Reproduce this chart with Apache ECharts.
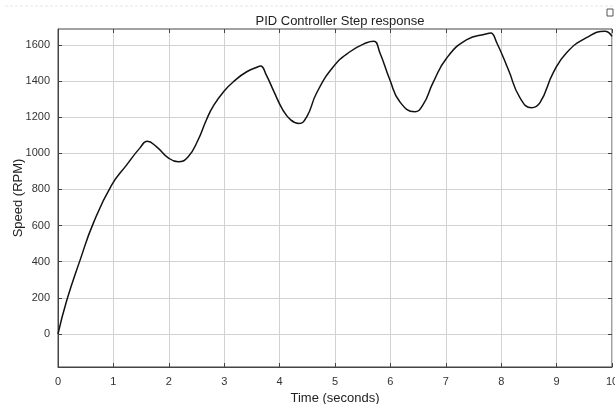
<!DOCTYPE html>
<html>
<head>
<meta charset="utf-8">
<script src="https://cdn.jsdelivr.net/npm/echarts@6/dist/echarts.min.js"></script>
<style>
  html, body { margin: 0; padding: 0; background: #fff; }
  #chart { width: 615px; height: 404px; }
</style>
</head>
<body>
<div id="chart"></div>
<script>
// time (s) and speed (RPM)
const timeS = [0, 0.16, 0.4, 0.64, 0.97, 1.24, 1.48, 1.61, 1.78, 1.99, 2.17, 2.35, 2.53, 2.68,
  2.8, 3.0, 3.2, 3.4, 3.6, 3.66, 3.75, 3.9, 4.05, 4.2, 4.35, 4.49, 4.67, 4.97, 5.27, 5.57, 5.7,
  5.81, 5.99, 6.17, 6.44, 6.59, 6.77, 7.02, 7.38, 7.74, 7.81, 7.92, 8.13, 8.34, 8.55, 8.7,
  8.94, 9.18, 9.54, 9.87, 10];
const speedRpm = [0, 188, 410, 615, 825, 936, 1030, 1066, 1036, 975, 953, 981, 1075, 1186,
  1260, 1345, 1405, 1450, 1478, 1483, 1440, 1340, 1245, 1185, 1165, 1202, 1335, 1479, 1562, 1612, 1620,
  1557, 1407, 1285, 1230, 1269, 1391, 1529, 1629, 1662, 1666, 1612, 1462, 1307, 1252, 1280,
  1446, 1557, 1640, 1675, 1647];
const xTicks = [0, 1, 2, 3, 4, 5, 6, 7, 8, 9, 10];
const yTicks = [0, 200, 400, 600, 800, 1000, 1200, 1400, 1600];

const font = 'Liberation Sans, Arial, sans-serif';
const chart = echarts.init(document.getElementById('chart'));

const points = timeS.map((t, i) => [t, speedRpm[i]]);

chart.setOption({
  animation: false,
  title: {
    text: 'PID Controller Step response',
    left: 335, top: 10, textAlign: 'center',
    textStyle: { fontFamily: font, fontSize: 13, fontWeight: 'normal', color: '#222' }
  },
  grid: { left: 58, right: 3, top: 29, bottom: 37, show: true, borderColor: '#444', borderWidth: 1,
    containLabel: false, outerBoundsMode: 'none' },
  xAxis: [{
    type: 'value', min: 0, max: 10, interval: 1,
    name: 'Time (seconds)', nameLocation: 'middle', nameGap: 24,
    nameTextStyle: { fontFamily: font, fontSize: 13, color: '#222' },
    axisLine: { onZero: false, lineStyle: { color: '#444' } },
    axisTick: { inside: true, length: 4, lineStyle: { color: '#444' } },
    axisLabel: { fontFamily: font, fontSize: 11, color: '#333', margin: 9,
      formatter: v => xTicks.includes(v) ? String(v) : '' },
    splitLine: { show: true, lineStyle: { color: '#d2d2d2' } }
  }, {
    type: 'value', position: 'top', min: 0, max: 10, interval: 1,
    axisLine: { show: false, onZero: false },
    axisTick: { inside: true, length: 4, lineStyle: { color: '#444' } },
    axisLabel: { show: false }, splitLine: { show: false }
  }],
  yAxis: [{
    type: 'value', min: -183, max: 1688,
    axisLabel: { fontFamily: font, fontSize: 11, color: '#333', margin: 8,
      customValues: yTicks, formatter: v => String(v) },
    axisTick: { inside: true, length: 4, lineStyle: { color: '#444' }, customValues: yTicks },
    axisLine: { show: true, onZero: false, lineStyle: { color: '#444' } },
    splitLine: { show: true, lineStyle: { color: '#d2d2d2' } },
    name: 'Speed (RPM)', nameLocation: 'middle', nameGap: 33, nameRotate: 90,
    nameMoveOverlap: false,
    nameTextStyle: { fontFamily: font, fontSize: 13, color: '#222' }
  }, {
    type: 'value', position: 'right', min: -183, max: 1688,
    axisLine: { show: false, onZero: false }, axisLabel: { show: false },
    axisTick: { inside: true, length: 4, lineStyle: { color: '#444' }, customValues: yTicks },
    splitLine: { show: false }
  }],
  graphic: [{
    type: 'line', shape: { x1: 5, y1: 6, x2: 615, y2: 6 },
    style: { stroke: '#e6e6e6', lineDash: [3, 2], lineWidth: 1 }
  }, {
    type: 'rect', shape: { x: 607, y: 9, width: 6, height: 7 },
    style: { fill: 'none', stroke: '#555', lineWidth: 1 }
  }],
  series: [{
    type: 'line', data: points, smooth: 0.5, showSymbol: false,
    lineStyle: { color: '#111', width: 1.5 }
  }]
});
</script>
</body>
</html>
